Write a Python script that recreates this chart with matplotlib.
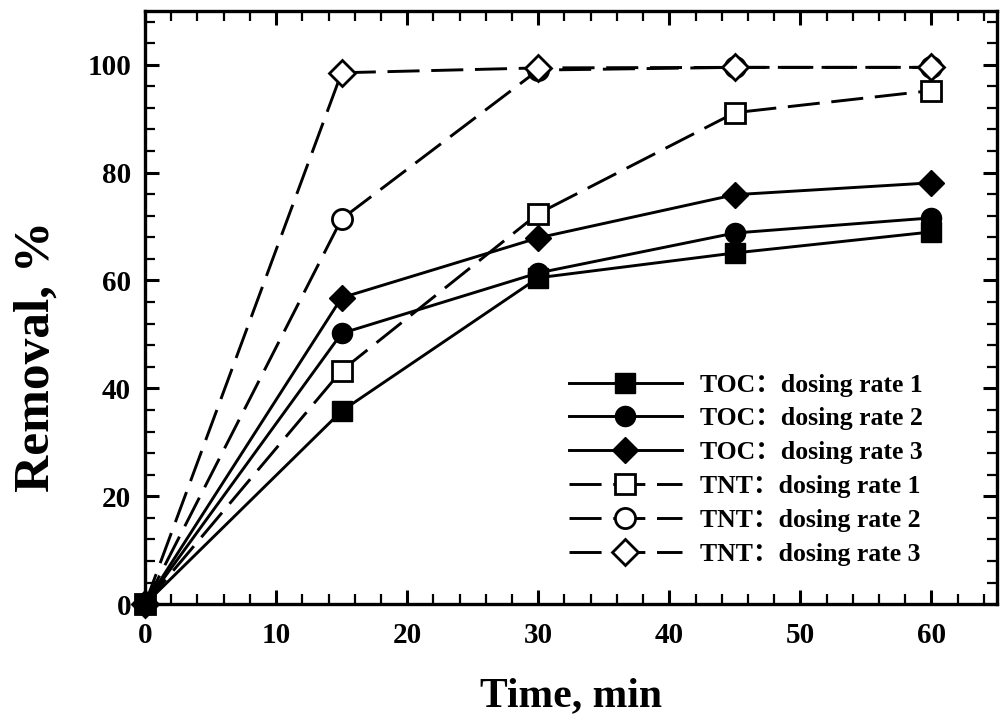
import matplotlib
matplotlib.use('Agg')
import matplotlib.pyplot as plt
from matplotlib.ticker import MultipleLocator

plt.rcParams['font.family'] = ['Liberation Serif', 'Noto Sans CJK SC']
plt.rcParams['font.weight'] = 'bold'

time = [0, 15, 30, 45, 60]
toc_rate1 = [0, 35.8, 60.5, 65.1, 69.0]
toc_rate2 = [0, 50.2, 61.4, 68.8, 71.6]
toc_rate3 = [0, 56.8, 67.9, 75.9, 78.1]
tnt_rate1 = [0, 43.3, 72.4, 91.1, 95.2]
tnt_rate2 = [0, 71.4, 99.0, 99.5, 99.5]
tnt_rate3 = [0, 98.5, 99.4, 99.5, 99.5]

labels = ['TOC：dosing rate 1', 'TOC：dosing rate 2', 'TOC：dosing rate 3',
          'TNT：dosing rate 1', 'TNT：dosing rate 2', 'TNT：dosing rate 3']

fig = plt.figure(figsize=(10, 7.15), dpi=100)
ax = fig.add_axes([0.145, 0.155, 0.852, 0.83])

# solid lines + filled markers for TOC, dashed + hollow for TNT
def toc(y, marker, ms, label):
    ax.plot(time, y, color='black', lw=2.1, marker=marker, ms=ms,
            mfc='black', mec='black', clip_on=False, label=label, zorder=4)

def tnt(y, marker, ms, label):
    ax.plot(time, y, color='black', lw=2.1, marker=marker, ms=ms,
            mfc='white', mec='black', mew=2, dashes=(11, 4),
            clip_on=False, label=label, zorder=3)

toc(toc_rate1, 's', 14, labels[0])
toc(toc_rate2, 'o', 14.5, labels[1])
toc(toc_rate3, 'D', 13.5, labels[2])
tnt(tnt_rate1, 's', 14, labels[3])
tnt(tnt_rate2, 'o', 14.5, labels[4])
tnt(tnt_rate3, 'D', 13.5, labels[5])

ax.set_xlim(0, 65)
ax.set_ylim(0, 110)
ax.xaxis.set_major_locator(MultipleLocator(10))
ax.xaxis.set_minor_locator(MultipleLocator(2))
ax.yaxis.set_major_locator(MultipleLocator(20))
ax.yaxis.set_minor_locator(MultipleLocator(4))
ax.tick_params(which='both', direction='in', top=True, right=True)
ax.tick_params(which='major', length=10, width=2.2, labelsize=21)
ax.tick_params(which='minor', length=7.5, width=1.6)
ax.tick_params(axis='x', which='major', pad=13)
ax.tick_params(axis='y', which='major', pad=10)
for s in ax.spines.values():
    s.set_linewidth(2.4)

ax.set_xlabel('Time, min', fontsize=30, fontweight='bold', labelpad=20)
ax.set_ylabel('Removal, %', fontsize=37, fontweight='bold')
ax.yaxis.set_label_coords(-0.1, 0.418)

ax.legend(loc='lower right', bbox_to_anchor=(0.913, 0.065), frameon=False,
          fontsize=18.5, handlelength=4.4, labelspacing=0.42, handletextpad=0.7,
          borderpad=0, borderaxespad=0)

fig.savefig('out.png', dpi=100, facecolor='white')
